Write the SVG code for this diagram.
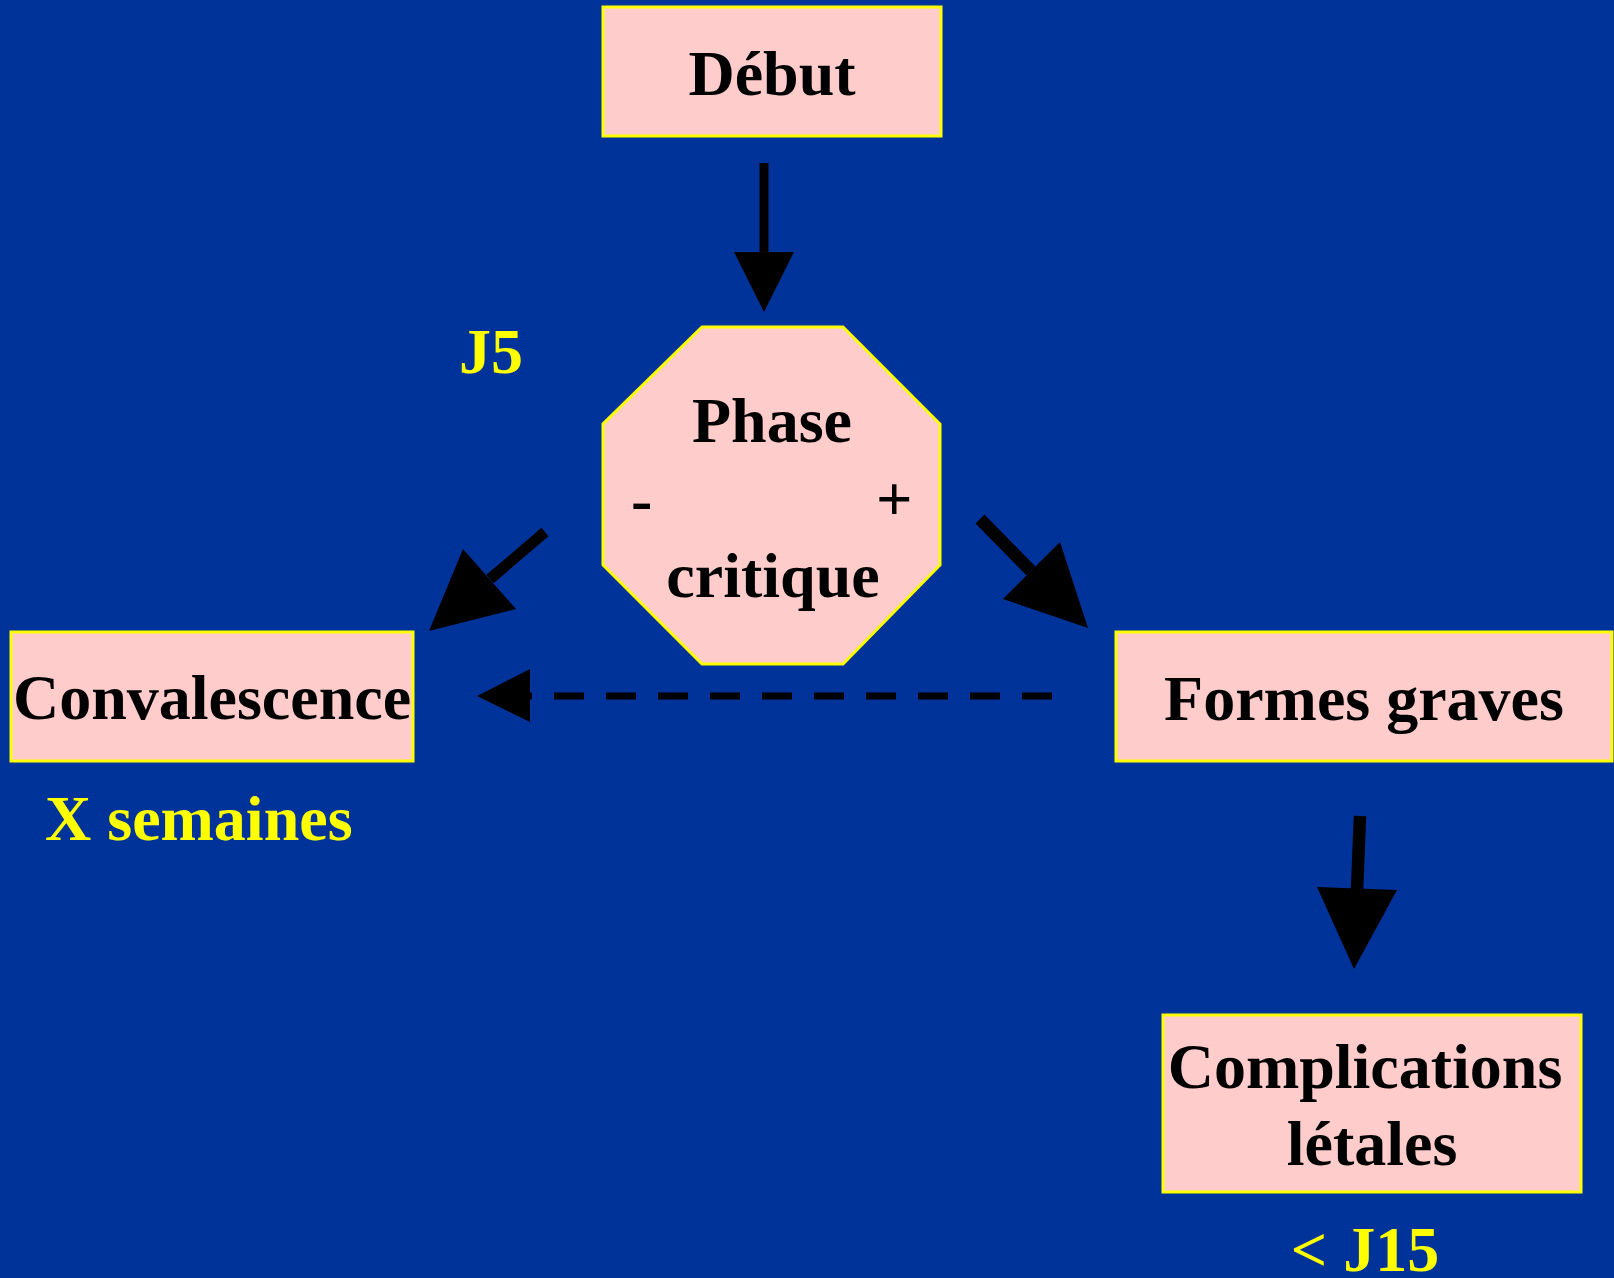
<svg xmlns="http://www.w3.org/2000/svg" width="1614" height="1278" viewBox="0 0 1614 1278">
  <style>
    .box { fill: #FFCCCC; stroke: #FFFF00; stroke-width: 3; }
    .lbl { font-family: "Liberation Serif", "Times New Roman", serif; font-weight: bold; font-size: 64px; fill: #000000; }
    .note { font-family: "Liberation Serif", "Times New Roman", serif; font-weight: bold; font-size: 64px; fill: #FFFF00; }
    .shaft { stroke: #000000; fill: none; }
    .head { fill: #000000; }
  </style>
  <rect x="0" y="0" width="1614" height="1278" fill="#003399"/>

  <g id="connectors">
    <line class="shaft" x1="764" y1="163" x2="764" y2="256" stroke-width="9"/>
    <polygon class="head" points="734,252 794,252 764,312"/>

    <line class="shaft" x1="545" y1="532" x2="490" y2="579" stroke-width="11"/>
    <polygon class="head" points="463,549 516,609 429,631"/>

    <line class="shaft" x1="980" y1="519" x2="1031" y2="571" stroke-width="12.5"/>
    <polygon class="head" points="1060,542 1003,599 1088,628"/>

    <line class="shaft" x1="1052" y1="696" x2="530" y2="696" stroke-width="7" stroke-dasharray="30 22"/>
    <polygon class="head" points="530,669 530,722 477,696"/>

    <line class="shaft" x1="1360" y1="816" x2="1357" y2="890" stroke-width="12.5"/>
    <polygon class="head" points="1317,887 1397,890 1354,969"/>
  </g>

  <g id="debut">
    <rect class="box" x="603" y="7" width="338" height="129"/>
    <text class="lbl" x="772" y="95" text-anchor="middle">Début</text>
  </g>

  <g id="phase-critique">
    <polygon class="box" points="702,327 843,327 940,424 940,565 843,664 702,664 603,565 603,424"/>
    <text class="lbl" x="772" y="442" text-anchor="middle">Phase</text>
    <text class="lbl" x="631" y="521">-</text>
    <text class="lbl" x="876" y="520">+</text>
    <text class="lbl" x="773" y="597" text-anchor="middle">critique</text>
  </g>

  <g id="j5">
    <text class="note" x="459" y="373">J5</text>
  </g>

  <g id="convalescence">
    <rect class="box" x="11" y="632" width="402" height="129"/>
    <text class="lbl" x="212" y="719" text-anchor="middle">Convalescence</text>
  </g>

  <g id="x-semaines">
    <text class="note" x="45" y="840">X semaines</text>
  </g>

  <g id="formes-graves">
    <rect class="box" x="1116" y="632" width="496" height="129"/>
    <text class="lbl" x="1364" y="720" text-anchor="middle">Formes graves</text>
  </g>

  <g id="complications">
    <rect class="box" x="1163" y="1015" width="418" height="177"/>
    <text class="lbl" x="1365" y="1088" text-anchor="middle">Complications</text>
    <text class="lbl" x="1372" y="1165" text-anchor="middle">létales</text>
  </g>

  <g id="j15">
    <text class="note" x="1365" y="1271" text-anchor="middle">&lt; J15</text>
  </g>
</svg>
